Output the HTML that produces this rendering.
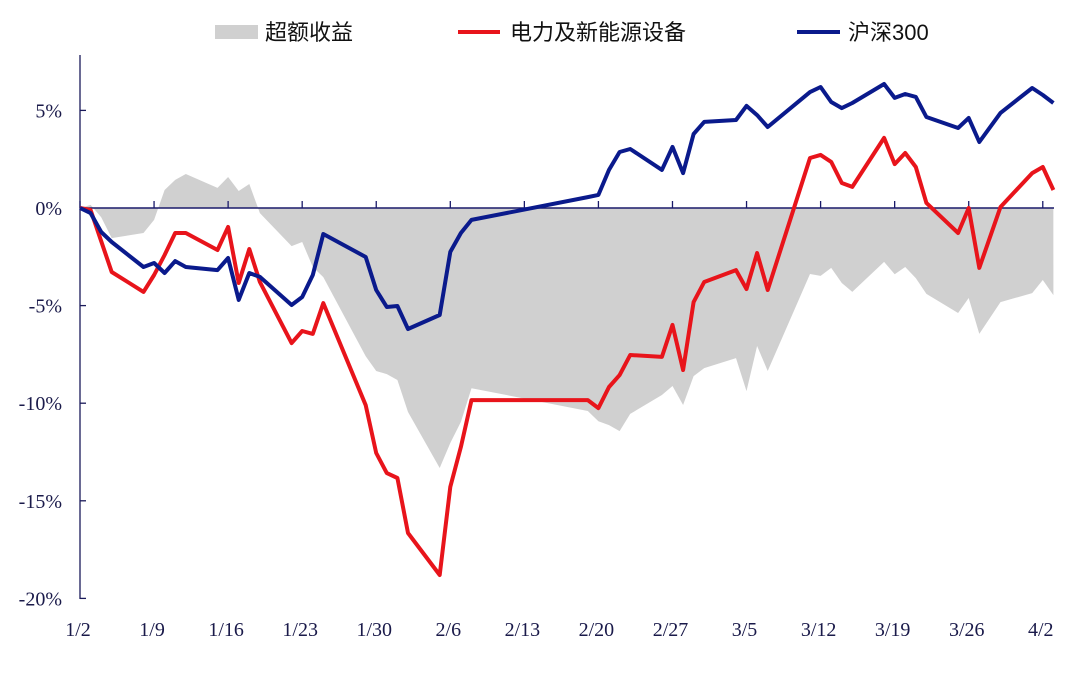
<!DOCTYPE html>
<html><head><meta charset="utf-8"><style>
body{margin:0;background:#fff;width:1080px;height:673px;overflow:hidden}
svg text{font-family:"Liberation Serif","Noto Serif CJK SC",serif;fill:#1a1a4a}
.cj{font-family:"Liberation Sans","Noto Sans CJK SC",sans-serif;fill:#111}
</style></head><body>
<svg id="chart" width="1080" height="673" xmlns="http://www.w3.org/2000/svg">
<g id="legend">
<rect x="215" y="25" width="43" height="14" fill="#d0d0d0"/>
<text class="cj" x="265" y="40" font-size="22">超额收益</text>
<line x1="458" y1="32" x2="500" y2="32" stroke="#e8141b" stroke-width="4"/>
<text class="cj" x="510" y="40" font-size="22">电力及新能源设备</text>
<line x1="797" y1="32" x2="840" y2="32" stroke="#0a1a8c" stroke-width="4"/>
<text class="cj" x="848" y="40" font-size="22">沪深300</text>
</g>
<g id="plot"></g>
</svg>
<script>
const dates=["1/2","1/3","1/4","1/5","1/8","1/9","1/10","1/11","1/12","1/15","1/16","1/17","1/18","1/19","1/22","1/23","1/24","1/25","1/29","1/30","1/31","2/1","2/2","2/5","2/6","2/7","2/8","2/19","2/20","2/21","2/22","2/23","2/26","2/27","2/28","2/29","3/1","3/4","3/5","3/6","3/7","3/11","3/12","3/13","3/14","3/15","3/18","3/19","3/20","3/21","3/22","3/25","3/26","3/27","3/29","4/1","4/2","4/3"];
const sector=[0,-0.1,-1.7,-3.28,-4.3,-3.43,-2.41,-1.28,-1.28,-2.15,-0.97,-3.84,-2.1,-3.79,-6.92,-6.3,-6.45,-4.87,-10.1,-12.55,-13.58,-13.83,-16.65,-18.8,-14.29,-12.24,-9.84,-9.84,-10.25,-9.17,-8.56,-7.53,-7.63,-5.99,-8.3,-4.82,-3.79,-3.18,-4.15,-2.31,-4.2,2.56,2.72,2.36,1.28,1.08,3.59,2.25,2.82,2.1,0.26,-1.28,0,-3.07,0.05,1.79,2.1,0.92];
const csi300=[0,-0.26,-1.23,-1.74,-3.02,-2.82,-3.33,-2.72,-3.02,-3.18,-2.56,-4.71,-3.33,-3.53,-4.97,-4.56,-3.43,-1.33,-2.51,-4.2,-5.07,-5.02,-6.2,-5.48,-2.25,-1.28,-0.61,0.56,0.67,1.95,2.87,3.02,1.95,3.13,1.79,3.79,4.41,4.51,5.23,4.76,4.15,5.94,6.2,5.43,5.12,5.38,6.35,5.64,5.84,5.69,4.66,4.1,4.61,3.38,4.87,6.15,5.79,5.38];
const xTicks=["1/2","1/9","1/16","1/23","1/30","2/6","2/13","2/20","2/27","3/5","3/12","3/19","3/26","4/2"];
const yTicks=[5,0,-5,-10,-15,-20];
const NS="http://www.w3.org/2000/svg";
const g=document.getElementById('plot');
function dayOf(s){const [m,d]=s.split('/').map(Number);return [0,-2,29,58,89][m]+d;}
function X(s){return 80+dayOf(s)*10.58;}
function Y(v){return 208-v*19.52;}
function el(t,a){const e=document.createElementNS(NS,t);for(const k in a)e.setAttribute(k,a[k]);g.appendChild(e);return e;}
const excess=sector.map((v,i)=>v-csi300[i]);
let pts=`${X(dates[0])},${Y(0)} `+dates.map((d,i)=>`${X(d).toFixed(1)},${Y(excess[i]).toFixed(1)}`).join(' ')+` ${X(dates[dates.length-1])},${Y(0)}`;
const area=el('polygon',{points:pts,fill:'#d0d0d0'});


const yax=el('line',{x1:80,y1:55,x2:80,y2:599,stroke:'#1a1a5a','stroke-width':1.3});


yTicks.forEach(v=>{
 const t=el('line',{x1:80,y1:Y(v),x2:86,y2:Y(v),stroke:'#1a1a5a','stroke-width':1.3});
 
 
 const l=el('text',{x:62,y:Y(v)+7,'text-anchor':'end','font-size':20});
 l.textContent=v+'%';
 
 
});
const xax=el('line',{x1:80,y1:208,x2:1054,y2:208,stroke:'#1a1a6a','stroke-width':1.5});


xTicks.forEach(d=>{
 const t=el('line',{x1:X(d),y1:208,x2:X(d),y2:201,stroke:'#1a1a6a','stroke-width':1.3});
 
 
 const l=el('text',{x:X(d)-2,y:636,'text-anchor':'middle','font-size':20});
 l.textContent=d;
 
 
});
function line(arr,color,name){
 const p=el('polyline',{points:dates.map((d,i)=>`${X(d).toFixed(1)},${Y(arr[i]).toFixed(1)}`).join(' '),fill:'none',stroke:color,'stroke-width':4,'stroke-linejoin':'round'});
 
 
}
line(sector,'#e8141b','sector-line');
line(csi300,'#0a1a8c','csi300-line');
</script>
</body></html>
